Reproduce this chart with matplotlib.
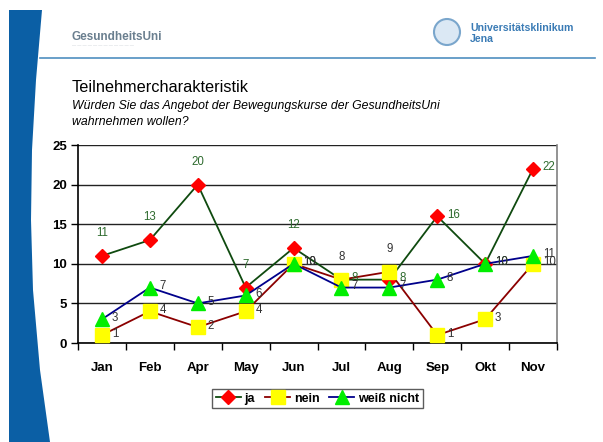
import matplotlib.pyplot as plt
import numpy as np
from matplotlib.patches import Polygon, Ellipse
from matplotlib.lines import Line2D

plt.rcParams['font.family'] = ['Liberation Sans', 'DejaVu Sans']

# data
months = ['Jan', 'Feb', 'Apr', 'May', 'Jun', 'Jul', 'Aug', 'Sep', 'Okt', 'Nov']
ja = [11, 13, 20, 7, 12, 8, 8, 16, 10, 22]
nein = [1, 4, 2, 4, 10, 8, 9, 1, 3, 10]
weiss_nicht = [3, 7, 5, 6, 10, 7, 7, 8, 10, 11]

# where each value label sits ('a' = above, 'r' = right)
ja_pos = ['a', 'a', 'a', 'a', 'a', 'r', 'r', 'r', 'r', 'r']
nein_pos = ['r', 'r', 'r', 'r', 'r', 'a', 'a', 'r', 'r', 'r']
wn_pos = ['r'] * 10

fig = plt.figure(figsize=(6.03, 4.42), dpi=100)
fig.patch.set_facecolor('white')

# slide decoration: blue bar on the left, header line, logos
W, H = 603, 442
bar = [(9, 10), (42, 10), (36, 80), (32, 150), (31, 220), (33, 290),
       (40, 370), (50, 442), (9, 442)]
fig.patches.append(Polygon([(x / W, 1 - y / H) for x, y in bar], closed=True,
                           transform=fig.transFigure, facecolor='#0b5fa5',
                           edgecolor='none'))
fig.add_artist(Line2D([40 / W, 595 / W], [1 - 58 / H, 1 - 58 / H],
                      transform=fig.transFigure, color='#4f8fc0', lw=1.2))
fig.text(72 / W, 1 - 37 / H, 'GesundheitsUni', fontsize=8.5, fontweight='bold',
         color='#6a7f8f', va='center')
fig.text(72 / W, 1 - 45 / H, '— — — — — — — — — — — —', fontsize=3,
         color='#b0b8c0', va='center')
fig.patches.append(Ellipse((447 / W, 1 - 32 / H), 26 / W, 26 / H, transform=fig.transFigure,
                           facecolor='#dbe8f4', edgecolor='#7aa6cc', lw=1.5))
fig.text(470 / W, 1 - 28 / H, 'Universitätsklinikum', fontsize=7.6, fontweight='bold',
         color='#3a7bb5', va='center')
fig.text(470 / W, 1 - 39 / H, 'Jena', fontsize=7.6, fontweight='bold',
         color='#3a7bb5', va='center')

# titles
fig.text(72 / W, 1 - 87 / H, 'Teilnehmercharakteristik', fontsize=11.7, va='center')
fig.text(72 / W, 1 - 106 / H, 'Würden Sie das Angebot der Bewegungskurse der GesundheitsUni',
         fontsize=8.8, style='italic', va='center')
fig.text(72 / W, 1 - 122 / H, 'wahrnehmen wollen?', fontsize=8.8, style='italic', va='center')

ax = fig.add_axes([78 / W, 1 - 343 / H, (557 - 78) / W, (343 - 145) / H])
x = np.arange(len(months))

ax.plot(x, ja, color='#0f4a0f', lw=1.3, marker='D', ms=7.5, mfc='#ff0000',
        mec='#ff0000', label='ja', zorder=3)
ax.plot(x, nein, color='#8b0000', lw=1.3, marker='s', ms=9.5, mfc='#ffff00',
        mec='#ffff00', label='nein', zorder=4)
ax.plot(x, weiss_nicht, color='#00008b', lw=1.3, marker='^', ms=10, mfc='#00ee00',
        mec='#00ee00', label='weiß nicht', zorder=5)


def put_labels(vals, pos, color):
    for i, (v, p) in enumerate(zip(vals, pos)):
        if p == 'a':
            ax.annotate(str(v), (i, v), xytext=(0, 12), textcoords='offset points',
                        ha='center', va='bottom', fontsize=8.3, color=color, zorder=6)
        else:
            ax.annotate(str(v), (i, v), xytext=(7, 1), textcoords='offset points',
                        ha='left', va='center', fontsize=8.3, color=color, zorder=6)


put_labels(ja, ja_pos, '#2d6a2d')
put_labels(nein, nein_pos, '#333333')
put_labels(weiss_nicht, wn_pos, '#333333')

ax.set_xlim(-0.5, len(months) - 0.5)
ax.set_ylim(0, 25)
ax.set_yticks([0, 5, 10, 15, 20, 25])
ax.set_xticks(x)
ax.set_xticklabels(months)
ax.set_xticks(np.arange(-0.5, len(months), 1), minor=True)
ax.tick_params(axis='x', which='major', length=0, pad=14)
ax.tick_params(axis='x', which='minor', length=5, direction='out', width=1)
ax.tick_params(axis='y', length=5, direction='out', width=1, pad=3)
for lab in ax.get_xticklabels() + ax.get_yticklabels():
    lab.set_fontweight('bold')
    lab.set_fontsize(9.5)

ax.yaxis.grid(True, color='#222222', lw=1)
ax.set_axisbelow(True)
ax.spines['top'].set_visible(False)
ax.spines['right'].set_color('#808080')
ax.spines['right'].set_linewidth(1.2)
ax.spines['left'].set_linewidth(1.2)
ax.spines['bottom'].set_linewidth(1.2)

leg = ax.legend(loc='upper center', bbox_to_anchor=(0.5, -0.2), ncol=3,
                frameon=True, fancybox=False, edgecolor='#333333',
                prop={'weight': 'bold', 'size': 9}, handlelength=2.0,
                handletextpad=0.3, columnspacing=0.8, borderpad=0.3)
leg.get_frame().set_linewidth(1)

fig.savefig('out.png', dpi=100)
